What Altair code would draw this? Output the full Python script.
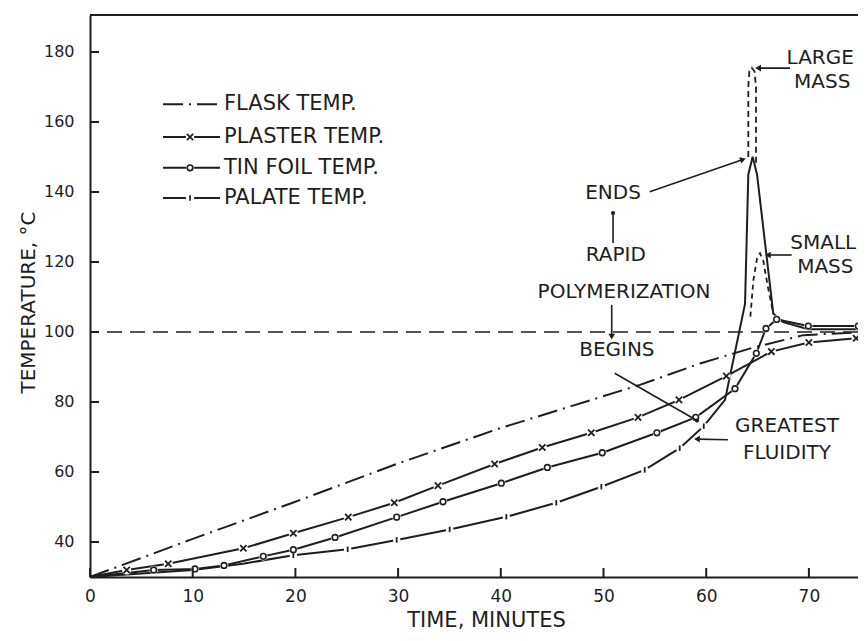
import math
import altair as alt
import pandas as pd

# ---------------- values ----------------
x_ticks = [0, 10, 20, 30, 40, 50, 60, 70]
y_ticks = [40, 60, 80, 100, 120, 140, 160, 180]

flask_t = [0, 9.74, 19.8, 29.86, 39.92, 53.55, 59.4, 64.5, 69.45, 74.7]
flask_T = [30, 40.6, 51.3, 62.3, 72.5, 84.9, 91.0, 95.5, 99.1, 99.9]

plaster_t = [0, 3.57, 7.62, 14.93, 19.8, 25.15, 29.63, 33.88, 39.4, 44.04, 48.81,
             53.36, 57.35, 61.96, 66.34, 70.0, 74.6]
plaster_T = [30, 32.0, 33.8, 38.2, 42.5, 47.1, 51.2, 56.1, 62.3, 67.0, 71.2,
             75.6, 80.6, 87.4, 94.4, 97.0, 98.2]

tin_t = [0, 6.2, 10.22, 13.05, 16.87, 19.8, 23.86, 29.86, 34.37, 40.05, 44.53,
         49.88, 55.2, 58.98, 62.8, 64.88, 65.82, 66.86, 69.94, 74.81]
tin_T = [30, 32.0, 32.3, 33.3, 35.9, 37.8, 41.3, 47.1, 51.5, 56.8, 61.3,
         65.5, 71.2, 75.6, 83.8, 93.9, 101.0, 103.6, 101.7, 101.7]

palate_t = [0, 5, 10, 14.9, 19.8, 25.09, 29.86, 35.02, 40.54, 45.4, 49.79, 54.01,
            57.42, 59.76, 61.83, 63.78, 64.1, 64.52, 64.95, 66.53, 67.5, 69.94, 74.81]
palate_T = [30, 31.0, 32.0, 33.8, 36.2, 37.9, 40.6, 43.6, 47.2, 51.2, 55.8, 60.6,
            66.8, 73.1, 80.6, 108.0, 145.0, 150.1, 145.0, 105.3, 102.8, 100.8, 100.8]
palate_tick_t = palate_t[4:14]
palate_tick_T = palate_T[4:14]

large_t = [64.1, 64.1, 64.2, 64.43, 64.7, 64.85, 64.85]
large_T = [150.0, 170.0, 174.5, 175.5, 174.5, 170.0, 148.0]

small_t = [64.3, 64.6, 64.95, 65.24, 65.55, 66.0, 66.53]
small_T = [104.4, 115.0, 121.0, 122.5, 120.5, 113.0, 105.3]

boiling_T = [100]

legend_labels = ["FLASK TEMP.", "PLASTER TEMP.", "TIN FOIL TEMP.", "PALATE TEMP."]
legend_T = [165.1, 155.7, 146.9, 138.3]

note_text = ["LARGE", "MASS", "ENDS", "RAPID", "POLYMERIZATION", "BEGINS",
             "GREATEST", "FLUIDITY", "SMALL", "MASS"]
note_t = [71.1, 71.3, 50.93, 51.2, 52.0, 51.3, 67.87, 67.87, 71.4, 71.6]
note_T = [178.3, 171.4, 139.7, 122.0, 111.4, 94.9, 73.1, 65.5, 125.4, 118.6]

arrow_t0 = [68.16, 54.5, 50.93, 50.8, 51.09, 62.12, 68.32]
arrow_T0 = [175.4, 140.1, 125.4, 107.7, 88.2, 69.2, 122.0]
arrow_t1 = [65.05, 63.58, 50.93, 50.8, 59.1, 59.1, 66.0]
arrow_T1 = [175.4, 149.3, 134.0, 98.7, 74.7, 69.4, 122.0]
arrow_head = ["tri", "tri", "dot", "tri", "dot", "tri", "tri"]

# ---------------- styling / layout ----------------
INK = "#1e1e1e"
FONT = "DejaVu Sans"
W, H = 768, 562
XMAX = 74.78
YMIN, YMAX = 30, 190.57
PX_T = W / XMAX
PX_Y = H / (YMAX - YMIN)

xs = alt.Scale(domain=[0, XMAX], nice=False, zero=False)
ys = alt.Scale(domain=[YMIN, YMAX], nice=False, zero=False)

x_axis = alt.Axis(values=x_ticks, ticks=False, grid=False, domainColor=INK, domainWidth=2,
                  labelFont=FONT, labelFontSize=17, labelColor=INK, labelPadding=11,
                  labelFlush=False, title="TIME, MINUTES", titleFont=FONT, titleFontSize=21,
                  titleFontWeight="normal", titleColor=INK, titleX=396, titleY=49,
                  titleBaseline="alphabetic")
y_axis = alt.Axis(values=y_ticks, ticks=False, grid=False, domainColor=INK, domainWidth=2,
                  labelFont=FONT, labelFontSize=16, labelColor=INK, labelPadding=16,
                  title="TEMPERATURE, °C", titleFont=FONT, titleFontSize=20,
                  titleFontWeight="normal", titleColor=INK, titleAngle=270,
                  titleX=-56, titleY=287, titleBaseline="alphabetic")


def X(f="t"):
    return alt.X(f"{f}:Q", scale=xs, axis=x_axis)


def Y(f="T"):
    return alt.Y(f"{f}:Q", scale=ys, axis=y_axis)


def sdf(ts, Ts):
    return pd.DataFrame({"t": ts, "T": Ts, "i": list(range(len(ts)))})


def line(ts, Ts, dash=None, width=2.0):
    kw = dict(color=INK, strokeWidth=width)
    if dash:
        kw["strokeDash"] = dash
    return alt.Chart(sdf(ts, Ts)).mark_line(**kw).encode(x=X(), y=Y(), order="i:Q")


X_SHAPE = "M-1,-1L1,1M-1,1L1,-1"
TICK_SHAPE = "M0,-1L0,1"


def halo(ts, Ts, size=85):
    return alt.Chart(sdf(ts, Ts)).mark_point(shape="circle", size=size, filled=True,
                                              color="white", opacity=1).encode(x=X(), y=Y())


def marker(ts, Ts, shape, size, sw=1.8):
    return alt.Chart(sdf(ts, Ts)).mark_point(shape=shape, size=size, filled=False,
                                              color=INK, opacity=1, strokeWidth=sw
                                              ).encode(x=X(), y=Y())


layers = []

# reference line at 100 C
layers.append(alt.Chart(pd.DataFrame({"T": boiling_T})).mark_rule(
    color=INK, strokeWidth=1.6, strokeDash=[15, 8]).encode(y=Y()))

# curves
layers.append(line(flask_t, flask_T, dash=[20, 6, 2, 6]))
layers.append(line(plaster_t, plaster_T))
layers.append(line(tin_t, tin_T))
layers.append(line(palate_t, palate_T))
layers.append(line(large_t, large_T, dash=[6, 4], width=1.8))
layers.append(line(small_t, small_T, dash=[5, 4], width=1.8))

# markers
layers.append(halo(plaster_t[1:], plaster_T[1:]))
layers.append(halo(tin_t[1:], tin_T[1:], size=70))
layers.append(halo(palate_tick_t, palate_tick_T, size=55))
layers.append(marker(plaster_t[1:], plaster_T[1:], X_SHAPE, 40))
layers.append(marker(tin_t[1:], tin_T[1:], "circle", 32, sw=1.6))
layers.append(marker(palate_tick_t, palate_tick_T, TICK_SHAPE, 30))

# inward ticks and top frame
layers.append(alt.Chart(pd.DataFrame({"t": x_ticks})).mark_rule(color=INK, strokeWidth=2).encode(
    x=X(), y=alt.value(H), y2=alt.value(H - 9)))
layers.append(alt.Chart(pd.DataFrame({"T": y_ticks})).mark_rule(color=INK, strokeWidth=2).encode(
    y=Y(), x=alt.value(0), x2=alt.value(9)))
layers.append(alt.Chart(pd.DataFrame({"a": [0]})).mark_rule(color=INK, strokeWidth=2).encode(
    x=alt.value(0), x2=alt.value(W), y=alt.value(0)))

# legend
LG0, LG1, LGM, LGT = 7.11, 12.66, 9.74, 13.05
leg = pd.DataFrame({"label": legend_labels, "T": legend_T,
                    "t0": [LG0] * 4, "t1": [LG1] * 4, "tm": [LGM] * 4, "tx": [LGT] * 4})
layers.append(alt.Chart(leg.iloc[[0]]).mark_rule(color=INK, strokeWidth=2,
                                                 strokeDash=[20, 6, 2, 6]).encode(
    x=X("t0"), x2=alt.X2("t1:Q"), y=Y()))
layers.append(alt.Chart(leg.iloc[1:]).mark_rule(color=INK, strokeWidth=2).encode(
    x=X("t0"), x2=alt.X2("t1:Q"), y=Y()))
layers.append(alt.Chart(leg.iloc[1:]).mark_point(shape="circle", size=70, filled=True,
                                                 color="white", opacity=1).encode(x=X("tm"), y=Y()))
for k, (shape, size) in zip([1, 2, 3], [(X_SHAPE, 40), ("circle", 32), (TICK_SHAPE, 30)]):
    layers.append(alt.Chart(leg.iloc[[k]]).mark_point(shape=shape, size=size, filled=False,
                                                      color=INK, opacity=1, strokeWidth=1.7
                                                      ).encode(x=X("tm"), y=Y()))
layers.append(alt.Chart(leg).mark_text(font=FONT, fontSize=21, color=INK, align="left",
                                       baseline="middle").encode(
    x=X("tx"), y=Y(), text="label:N"))

# annotations
notes = pd.DataFrame({"txt": note_text, "t": note_t, "T": note_T})
layers.append(alt.Chart(notes).mark_text(font=FONT, fontSize=20, color=INK, align="center",
                                         baseline="middle").encode(x=X(), y=Y(), text="txt:N"))

arr = pd.DataFrame({"t": arrow_t0, "T": arrow_T0, "t1": arrow_t1, "T1": arrow_T1,
                    "head": arrow_head})
arr["ang"] = [
    (math.degrees(math.atan2(-(b1 - b0) * PX_Y, (a1 - a0) * PX_T)) + 360) % 360
    for a0, b0, a1, b1 in zip(arrow_t0, arrow_T0, arrow_t1, arrow_T1)
]
layers.append(alt.Chart(arr).mark_rule(color=INK, strokeWidth=1.6).encode(
    x=X(), y=Y(), x2=alt.X2("t1:Q"), y2=alt.Y2("T1:Q")))
layers.append(alt.Chart(arr[arr["head"] == "tri"]).mark_point(
    shape="triangle-right", size=45, filled=True, color=INK, opacity=1).encode(
    x=X("t1"), y=Y("T1"), angle=alt.Angle("ang:Q", scale=None)))
layers.append(alt.Chart(arr[arr["head"] == "dot"]).mark_point(
    shape="circle", size=18, filled=True, color=INK, opacity=1).encode(
    x=X("t1"), y=Y("T1")))

chart = alt.layer(*layers).properties(
    width=W, height=H,
    padding={"left": 82, "top": 7, "right": 0, "bottom": 56},
    autosize=alt.AutoSizeParams(type="none"),
    background="white",
).configure_view(stroke=None)

chart.save("out.html", embed_options={"renderer": "svg", "actions": False})
